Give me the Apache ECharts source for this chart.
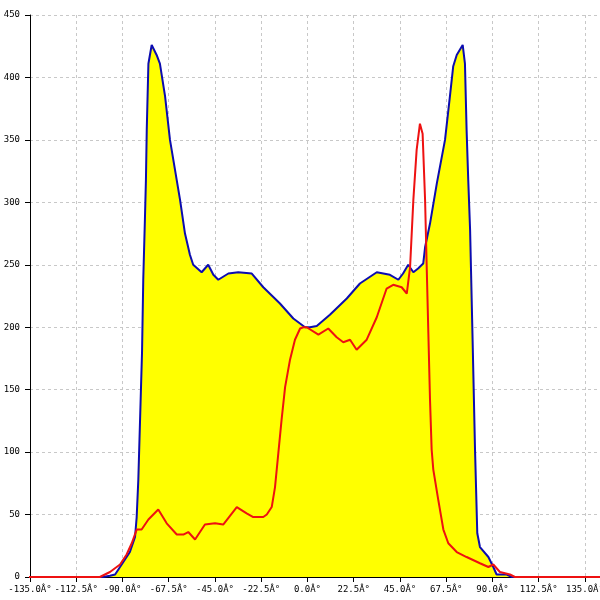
<!DOCTYPE html>
<html><head><meta charset="utf-8">
<script src="https://cdn.jsdelivr.net/npm/echarts@6/dist/echarts.min.js"></script>
<style>html,body{margin:0;padding:0;background:#fff}#c{width:600px;height:600px}</style>
</head><body><div id="c"></div>
<script>
// blue envelope (degrees, value)
const blueX = [-136,-99.5,-96.1,-93.6,-91.2,-89.6,-86.4,-83.9,-83.1,-82.3,-80.5,-79.9,-79.1,-78.6,-78.2,-77.4,-75.8,-73.4,-71.8,-69.3,-66.9,-62.0,-59.6,-57.2,-55.6,-51.5,-48.3,-45.8,-43.4,-38.5,-33.7,-27.1,-21.5,-13.4,-6.9,-1.2,1.2,4.5,10.9,19.1,25.5,33.7,40.1,44.2,46.5,49.0,51.5,53.8,56.3,57.2,59.6,62.9,66.9,69.3,70.9,72.6,75.5,76.6,77.4,78.2,79.1,80.4,81.5,82.6,83.9,88.0,90.4,92.0,96.9,99.5,143];
const blueY = [0,0,1,2,8,12,20,32,48,78,180,238,286,318,358,411,426,418,411,385,350,302,275,258,250,244,250,242,238,243,244,243,232,219,207,200,200,201,210,223,235,244,242,238,243,250,244,247,251,264,283,315,350,385,409,418,426,411,358,318,278,184,102,35,24,16,8,2,2,0,0];
// red curve (degrees, value)
const redX = [-150,-101.0,-96.1,-91.2,-88.0,-85.5,-83.1,-80.7,-77.4,-72.6,-68.5,-63.6,-60.4,-58.0,-54.7,-49.9,-45.0,-41.0,-34.4,-29.6,-26.4,-21.5,-19.8,-17.4,-15.8,-14.2,-12.6,-10.9,-8.5,-6.1,-3.6,-2.0,-0.4,5.3,10.1,14.2,17.4,20.7,23.9,28.8,33.7,38.5,41.7,45.8,48.3,49.9,51.5,53.1,54.7,56.0,57.2,58.0,58.8,59.6,60.4,61.2,63.6,66.1,68.5,72.6,77.4,83.9,88.0,90.4,93.6,98.5,100.9,143];
const redY = [0,0,4,10,18,27,38,38,46,54,43,34,34,36,30,42,43,42,56,51,48,48,50,56,72,99,126,152,174,190,199,200,200,194,199,192,188,190,182,190,208,231,234,232,227,248,302,342,363,355,302,248,195,142,102,86,62,38,27,20,16,11,8,10,4,2,0,0];
const yTicks = [0,50,100,150,200,250,300,350,400,450];

const pairs = (xs, ys) => xs.map((x, i) => [x, ys[i]]);
const chart = echarts.init(document.getElementById('c'));
const font = 'DejaVu Sans Mono';
chart.setOption({
  animation: false,
  grid: { left: 30, right: 0, top: 15, bottom: 23, containLabel: false, outerBoundsMode: 'none' },
  xAxis: {
    type: 'value', min: -135, max: 142.3, interval: 22.5,
    axisLine: { onZero: false, lineStyle: { color: '#000', width: 1 } },
    axisTick: { show: true, length: 5, lineStyle: { color: '#000' } },
    axisLabel: { color: '#000', fontFamily: font, fontSize: 9, margin: 8, showMaxLabel: false,
      formatter: v => v.toFixed(1) + 'Â°' },
    splitLine: { show: true, lineStyle: { color: '#c8c8c8', type: [3, 3] } }
  },
  yAxis: {
    type: 'value', min: 0, max: yTicks[yTicks.length - 1], interval: 50,
    axisLine: { show: true, onZero: false, lineStyle: { color: '#000', width: 1 } },
    axisTick: { show: true, length: 5, lineStyle: { color: '#000' } },
    axisLabel: { color: '#000', fontFamily: font, fontSize: 9, margin: 10 },
    splitLine: { show: true, lineStyle: { color: '#c8c8c8', type: [3, 3] } }
  },
  series: [
    { type: 'line', data: pairs(blueX, blueY), showSymbol: false, smooth: false,
      lineStyle: { color: '#0c0cb0', width: 2 }, areaStyle: { color: '#ffff00', opacity: 1 }, z: 2 },
    { type: 'line', data: pairs(redX, redY), showSymbol: false, smooth: false, clip: false,
      lineStyle: { color: '#ee1111', width: 2 }, z: 3 }
  ]
});
</script></body></html>
